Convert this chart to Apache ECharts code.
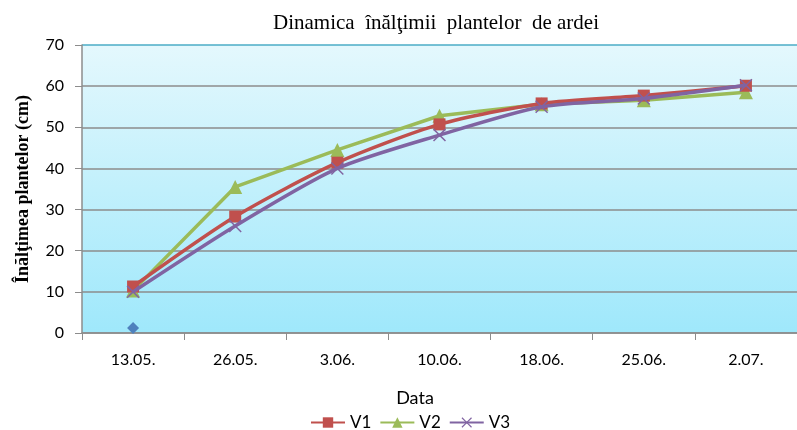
<!DOCTYPE html>
<html>
<head>
<meta charset="utf-8">
<script src="https://cdn.jsdelivr.net/npm/echarts@6/dist/echarts.min.js"></script>
<style>
  html, body { margin: 0; padding: 0; background: #ffffff; }
  #chart { width: 797px; height: 430px; }
</style>
</head>
<body>
<div id="chart"></div>
<script>
// Sampling dates
const categories = ['13.05.', '26.05.', '3.06.', '10.06.', '18.06.', '25.06.', '2.07.'];

// Plant height (cm) per variant
const v1 = [11.3, 28.3, 41.4, 50.7, 55.8, 57.7, 60.1];
const v2 = [10.3, 35.5, 44.5, 52.8, 55.6, 56.6, 58.5];
const v3 = [10.0, 26.0, 40.0, 48.1, 55.0, 57.0, 60.2];
// Single early measurement shown as a lone point
const v0 = [1.2, null, null, null, null, null, null];

const yTicks = { min: 0, max: 70, interval: 10 };

const sans = 'Lato';
const serif = 'Liberation Serif';

const crossPath = 'path://M0,0.8L0.8,0L5,4.2L9.2,0L10,0.8L5.8,5L10,9.2L9.2,10L5,5.8L0.8,10L0,9.2L4.2,5Z';

const chart = echarts.init(document.getElementById('chart'), null, { renderer: 'canvas' });

chart.setOption({
  animation: false,
  title: [
    {
      text: 'Dinamica  înălţimii  plantelor  de ardei',
      left: 431, top: 8, textAlign: 'center',
      textStyle: { fontFamily: serif, fontSize: 21, fontWeight: 'normal', color: '#000' }
    },
    {
      text: 'Data',
      left: 410, top: 384, textAlign: 'center',
      textStyle: { fontFamily: sans, fontSize: 18, fontWeight: 'normal', color: '#000' }
    }
  ],
  legend: {
    data: ['V1', 'V2', 'V3'],
    left: 305, top: 409,
    itemWidth: 34, itemHeight: 13, itemGap: 8,
    textStyle: { fontFamily: sans, fontSize: 17, color: '#000' }
  },
  grid: {
    left: 82, top: 45, width: 719, height: 288,
    show: true,
    borderWidth: 0,
    backgroundColor: new echarts.graphic.LinearGradient(0, 0, 0, 1, [
      { offset: 0, color: '#e4f8fd' },
      { offset: 1, color: '#9fe8fb' }
    ])
  },
  xAxis: {
    type: 'category',
    data: categories,
    boundaryGap: true,
    axisLine: { lineStyle: { color: '#8c8c8c', width: 1.5 } },
    axisTick: { show: true, length: 7, lineStyle: { color: '#8c8c8c' } },
    axisLabel: { fontFamily: sans, fontSize: 16, color: '#000', margin: 19 }
  },
  yAxis: {
    type: 'value',
    min: yTicks.min, max: yTicks.max, interval: yTicks.interval,
    name: 'Înălţimea plantelor (cm)',
    nameLocation: 'middle',
    nameGap: 50,
    nameTextStyle: { fontFamily: serif, fontSize: 18, fontWeight: 'bold', color: '#000' },
    axisLine: { show: true, lineStyle: { color: '#8c8c8c', width: 1.5 } },
    axisTick: { show: true, length: 7, lineStyle: { color: '#8c8c8c' } },
    axisLabel: { fontFamily: sans, fontSize: 16, color: '#000', margin: 18 },
    splitLine: {
      lineStyle: {
        color: ['#8c8c8c', '#8c8c8c', '#8c8c8c', '#8c8c8c', '#8c8c8c', '#8c8c8c', '#8c8c8c', '#4bacc6'],
        width: 1.5
      }
    }
  },
  series: [
    {
      name: 'V0', type: 'line', data: v0,
      symbol: 'diamond', symbolSize: 12,
      itemStyle: { color: '#4f81bd' },
      lineStyle: { width: 0 },
      z: 1
    },
    {
      name: 'V1', type: 'line', data: v1, smooth: 0.25,
      symbol: 'rect', symbolSize: 12,
      itemStyle: { color: '#c0504d' },
      lineStyle: { width: 3.5, color: '#c0504d' },
      z: 3
    },
    {
      name: 'V2', type: 'line', data: v2,
      symbol: 'triangle', symbolSize: 14,
      itemStyle: { color: '#9bbb59' },
      lineStyle: { width: 3.5, color: '#9bbb59' },
      z: 2
    },
    {
      name: 'V3', type: 'line', data: v3, smooth: 0.25,
      symbol: crossPath, symbolSize: 13,
      itemStyle: { color: '#8064a2' },
      lineStyle: { width: 3.5, color: '#8064a2' },
      z: 4
    }
  ]
});
</script>
</body>
</html>
